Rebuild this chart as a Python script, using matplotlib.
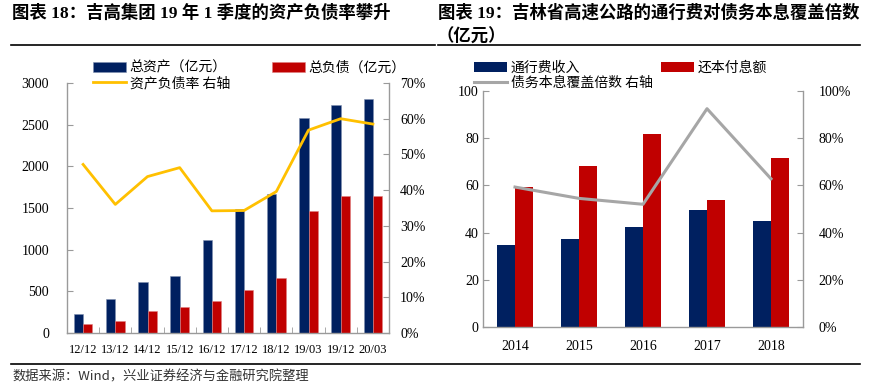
import numpy as np
import matplotlib
matplotlib.use("Agg")
import matplotlib.pyplot as plt
from matplotlib.lines import Line2D

plt.rcParams["font.family"] = ["Liberation Serif", "Noto Sans CJK SC", "DejaVu Sans"]

# --------------------------------------------------
# Data
# --------------------------------------------------
periods = ["12/12", "13/12", "14/12", "15/12", "16/12",
           "17/12", "18/12", "19/03", "19/12", "20/03"]
total_assets = [229, 409, 610, 686, 1111, 1484, 1669, 2579, 2732, 2804]
total_liab = [108, 148, 269, 317, 381, 513, 666, 1464, 1641, 1645]
debt_ratio = [47.2, 36.0, 43.8, 46.3, 34.2, 34.3, 39.6, 56.8, 60.0, 58.5]

years = ["2014", "2015", "2016", "2017", "2018"]
toll_income = [34.9, 37.2, 42.3, 49.7, 44.8]
debt_service = [59.3, 68.2, 81.7, 53.8, 71.5]
coverage = [59.3, 54.5, 52.0, 92.5, 62.8]

NAVY = "#002060"
RED = "#C00000"
GOLD = "#FFC000"
GREY = "#A6A6A6"
SPINE = "#9A9A9A"
CJK = ["Noto Sans CJK SC", "DejaVu Sans"]
TITLE_FONT = ["Liberation Serif", "Noto Sans CJK SC"]

W, H = 871, 386
fig = plt.figure(figsize=(W / 100, H / 100), dpi=100)


def box(x0, y0, x1, y1):
    return [x0 / W, 1 - y1 / H, (x1 - x0) / W, (y1 - y0) / H]


def style_axes(ax, ax2):
    for a in (ax, ax2):
        a.spines["top"].set_visible(False)
        for s in ("left", "right", "bottom"):
            a.spines[s].set_color(SPINE)
            a.spines[s].set_linewidth(1.0)
    ax.spines["right"].set_visible(False)
    ax2.spines["left"].set_visible(False)
    ax2.spines["bottom"].set_visible(False)
    ax.tick_params(axis="y", direction="in", length=4, color=SPINE, labelsize=10)
    ax2.tick_params(axis="y", direction="in", length=4, color=SPINE, labelsize=10)


# --------------------------------------------------
# Left chart: total assets / liabilities
# --------------------------------------------------
x = np.arange(len(periods))
w = 0.29
ax = fig.add_axes(box(67, 83, 389, 333))
ax2 = ax.twinx()

b1 = ax.bar(x - w / 2, total_assets, w, color=NAVY, edgecolor="#8090B0", linewidth=0.4)
b2 = ax.bar(x + w / 2, total_liab, w, color=RED, edgecolor="#E08080", linewidth=0.4)
l1, = ax2.plot(x, debt_ratio, color=GOLD, lw=2)

ax.set_xlim(-0.5, len(periods) - 0.5)
ax.set_ylim(0, 3000)
ax.set_yticks(np.arange(0, 3001, 500))
ax2.set_ylim(0, 70)
ax2.set_yticks(np.arange(0, 71, 10))
ax2.set_yticklabels([f"{v}%" for v in range(0, 71, 10)])
ax.set_xticks(x)
ax.set_xticklabels(periods, fontsize=9)
ax.set_xticks(np.arange(-0.5, len(periods), 1), minor=True)
ax.tick_params(axis="x", which="major", length=0, pad=8)
ax.tick_params(axis="x", which="minor", direction="in", length=4, color=SPINE)
style_axes(ax, ax2)
ax.tick_params(axis="y", pad=13)
ax2.tick_params(axis="y", pad=8)

ax.legend([b1, l1, b2], ["总资产（亿元）", "资产负债率 右轴", "总负债（亿元）"],
          ncol=2, loc="lower left", bbox_to_anchor=(93 / W, 1 - 90 / H),
          bbox_transform=fig.transFigure, frameon=False,
          prop={"family": CJK, "size": 10}, handlelength=2.4,
          handletextpad=0.25, columnspacing=3.0, labelspacing=0.1,
          borderpad=0, borderaxespad=0)

# --------------------------------------------------
# Right chart: toll income vs debt service
# --------------------------------------------------
xr = np.arange(len(years))
wr = 0.28
bx = fig.add_axes(box(483, 91, 803, 327))
bx2 = bx.twinx()

r1 = bx.bar(xr - wr / 2, toll_income, wr, color=NAVY)
r2 = bx.bar(xr + wr / 2, debt_service, wr, color=RED)
l2, = bx2.plot(xr, coverage, color=GREY, lw=2.2)

bx.set_xlim(-0.5, len(years) - 0.5)
bx.set_ylim(0, 100)
bx.set_yticks(np.arange(0, 101, 20))
bx2.set_ylim(0, 100)
bx2.set_yticks(np.arange(0, 101, 20))
bx2.set_yticklabels([f"{v}%" for v in range(0, 101, 20)])
bx.set_xticks(xr)
bx.set_xticklabels(years, fontsize=10)
bx.tick_params(axis="x", length=0, pad=9)
style_axes(bx, bx2)
bx.tick_params(axis="y", pad=3)
bx2.tick_params(axis="y", pad=11)

bx.legend([r1, l2, r2], ["通行费收入", "债务本息覆盖倍数 右轴", "还本付息额"],
          ncol=2, loc="lower left", bbox_to_anchor=(474 / W, 1 - 90 / H),
          bbox_transform=fig.transFigure, frameon=False,
          prop={"family": CJK, "size": 10}, handlelength=2.4,
          handletextpad=0.25, columnspacing=0.6, labelspacing=0.1,
          borderpad=0, borderaxespad=0)

# --------------------------------------------------
# Titles, rules and source
# --------------------------------------------------
fig.text(12 / W, 1 - 13 / H, "图表 18：吉高集团 19 年 1 季度的资产负债率攀升",
         family=TITLE_FONT, fontsize=12.5, fontweight="bold", va="center", ha="left")
fig.text(438 / W, 1 - 13 / H, "图表 19：吉林省高速公路的通行费对债务本息覆盖倍数",
         family=TITLE_FONT, fontsize=12.5, fontweight="bold", va="center", ha="left")
fig.text(436 / W, 1 - 37 / H, "（亿元）",
         family=TITLE_FONT, fontsize=12.5, fontweight="bold", va="center", ha="left")

fig.add_artist(Line2D([11 / W, 435 / W], [1 - 45 / H] * 2, color="black", lw=1.2))
fig.add_artist(Line2D([438 / W, 860 / W], [1 - 45 / H] * 2, color="black", lw=1.2))
fig.add_artist(Line2D([11 / W, 860 / W], [1 - 364 / H] * 2, color="black", lw=1.2))

fig.text(12 / W, 1 - 377 / H, "数据来源：Wind，兴业证券经济与金融研究院整理",
         family=CJK, fontsize=9.5, color="#333333", va="center", ha="left")

fig.savefig("out.png", dpi=100)
